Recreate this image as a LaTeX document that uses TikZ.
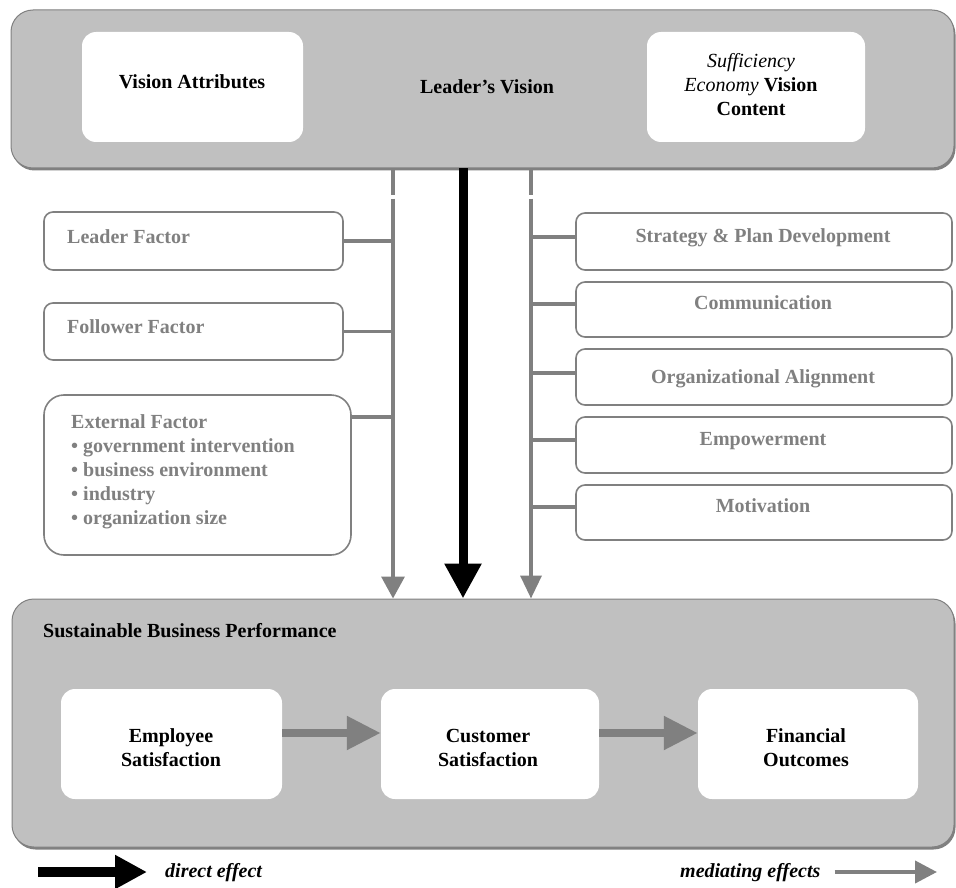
\documentclass[tikz,border=0pt]{standalone}
\usepackage{fontspec}
\setmainfont{Liberation Serif}
\usetikzlibrary{arrows.meta,calc}
\definecolor{boxgray}{HTML}{C0C0C0}
\definecolor{edgegray}{HTML}{808080}
\definecolor{linegray}{HTML}{808080}
\begin{document}
\begin{tikzpicture}[x=1pt,y=-1pt,
  bigbox/.style={rectangle, rounded corners=22pt, fill=boxgray, draw=edgegray, line width=1pt,
    preaction={fill=edgegray, transform canvas={shift={(1.5pt,-2.5pt)}}}, inner sep=0pt},
  whitebox/.style={rectangle, rounded corners=14pt, fill=white, draw=none, inner sep=0pt},
  factorbox/.style={rectangle, rounded corners=9pt, fill=white, draw=linegray, line width=1.6pt, inner sep=0pt},
  lbl/.style={inner sep=0pt, font=\bfseries\fontsize{20}{24}\selectfont},
  graylbl/.style={lbl, text=linegray},
  conn/.style={draw=linegray, line width=3.5pt},
  medarrow/.style={draw=linegray, line width=4pt, -{Triangle[width=22pt,length=22pt]}},
  dirarrow/.style={draw=black, line width=9pt, -{Triangle[width=35pt,length=35pt]}},
  flowarrow/.style={draw=linegray, line width=8pt, -{Triangle[width=32pt,length=34pt]}}
]
\useasboundingbox (0,0) rectangle (956,888);

% ---------- top box ----------
\node[bigbox, minimum width=943pt, minimum height=158pt] (lv) at (482.5,89) {};
\node[whitebox, minimum width=221pt, minimum height=110pt] (va) at (192.5,87) {};
\node[whitebox, minimum width=218pt, minimum height=110pt] (sec) at (756,87) {};
\node[lbl, anchor=base] (vat) at (192,89) {Vision Attributes};
\node[lbl, anchor=base] (lvt) at (487,94) {Leader's Vision};
\node[inner sep=0pt, anchor=base, align=center, font=\fontsize{20}{24}\selectfont] (sect) at (751,116)
  {\textit{Sufficiency}\\\textit{Economy} \textbf{Vision}\\\textbf{Content}};

% ---------- bottom box ----------
\node[bigbox, minimum width=942pt, minimum height=248pt] (sbp) at (483,723) {};
\node[lbl, anchor=base west] (sbpt) at (43,637) {Sustainable Business Performance};
\node[whitebox, minimum width=221pt, minimum height=110pt] (es) at (171.5,744) {};
\node[whitebox, minimum width=218pt, minimum height=110pt] (cs) at (490,744) {};
\node[whitebox, minimum width=220pt, minimum height=110pt] (fo) at (808,744) {};
\node[lbl, anchor=base, align=center] (est) at (171,766) {Employee\\Satisfaction};
\node[lbl, anchor=base, align=center] (cst) at (488,766) {Customer\\Satisfaction};
\node[lbl, anchor=base, align=center] (fot) at (806,766) {Financial\\Outcomes};
\coordinate (a1) at ($(es.east)+(0,-11)$);
\coordinate (a2) at ($(cs.east)+(0,-11)$);
\draw[flowarrow] (a1) -- (a1 -| cs.west);
\draw[flowarrow] (a2) -- (a2 -| fo.west);

% ---------- left factor boxes ----------
\node[factorbox, minimum width=299pt, minimum height=58pt] (lf) at (193.5,241) {};
\node[factorbox, minimum width=299pt, minimum height=57pt] (ff) at (193.5,331.5) {};
\node[factorbox, rounded corners=20pt, minimum width=307pt, minimum height=160pt] (xf) at (197.5,475) {};
\node[graylbl, anchor=base west] (lft) at (67,243) {Leader Factor};
\node[graylbl, anchor=base west] (fft) at (67,333) {Follower Factor};
\node[graylbl, anchor=base west, align=left] (xft) at (71,524)
  {External Factor\\
   \textbullet\ government intervention\\
   \textbullet\ business environment\\
   \textbullet\ industry\\
   \textbullet\ organization size};

% ---------- right mediator boxes ----------
\node[factorbox, minimum width=376pt, minimum height=57pt] (s1) at (764,241.5) {};
\node[factorbox, minimum width=376pt, minimum height=55pt] (s2) at (764,309.5) {};
\node[factorbox, minimum width=376pt, minimum height=56pt] (s3) at (764,377) {};
\node[factorbox, minimum width=376pt, minimum height=56pt] (s4) at (764,445) {};
\node[factorbox, minimum width=376pt, minimum height=55pt] (s5) at (764,512.5) {};
\node[graylbl, anchor=base] (s1t) at (763,242) {Strategy \& Plan Development};
\node[graylbl, anchor=base] (s2t) at (763,309) {Communication};
\node[graylbl, anchor=base] (s3t) at (763,383) {Organizational Alignment};
\node[graylbl, anchor=base] (s4t) at (763,445) {Empowerment};
\node[graylbl, anchor=base] (s5t) at (763,512) {Motivation};

% ---------- vertical arrows ----------
\coordinate (vl) at (393,300);
\coordinate (vb) at (463,300);
\coordinate (vr) at (531,300);
\draw[medarrow, line width=3.5pt, -{Triangle[width=23pt,length=22pt]}, dash pattern=on 26pt off 4pt on 2000pt off 0pt]
  (lv.south -| vl) -- (sbp.north -| vl);
\draw[medarrow, line width=3.5pt, -{Triangle[width=21pt,length=23pt]}, dash pattern=on 26pt off 4pt on 2000pt off 0pt]
  (lv.south -| vr) -- (sbp.north -| vr);
\draw[dirarrow] (lv.south -| vb) -- (sbp.north -| vb);

% ---------- connectors ----------
\draw[conn] (lf.east) -- (lf.east -| vl);
\draw[conn] (ff.east) -- (ff.east -| vl);
\coordinate (xc) at ($(xf.east)+(0,-58)$);
\draw[conn] (xc) -- (xc -| vl);
\coordinate (c1) at ($(s1.west)+(0,-4.5)$);
\coordinate (c2) at ($(s2.west)+(0,-5.5)$);
\coordinate (c3) at ($(s3.west)+(0,-4)$);
\coordinate (c4) at ($(s4.west)+(0,-5)$);
\coordinate (c5) at ($(s5.west)+(0,-5.5)$);
\foreach \c in {c1,c2,c3,c4,c5} \draw[conn] (\c) -- (\c -| vr);

% ---------- legend ----------
\coordinate (l1s) at (38,872);
\coordinate (l1e) at (147,872);
\draw[draw=black, line width=10pt, -{Triangle[width=32pt,length=32pt]}] (l1s) -- (l1e);
\node[inner sep=0pt, anchor=base west, font=\bfseries\itshape\fontsize{20}{24}\selectfont] (dtxt) at (165,877) {direct effect};
\node[inner sep=0pt, anchor=base west, font=\bfseries\itshape\fontsize{20}{24}\selectfont] (mtxt) at (680,877) {mediating effects};
\coordinate (l2e) at (937,872);
\draw[medarrow] (mtxt.east |- l2e) ++(14,0) coordinate (l2s) -- (l2e);
\end{tikzpicture}
\end{document}
